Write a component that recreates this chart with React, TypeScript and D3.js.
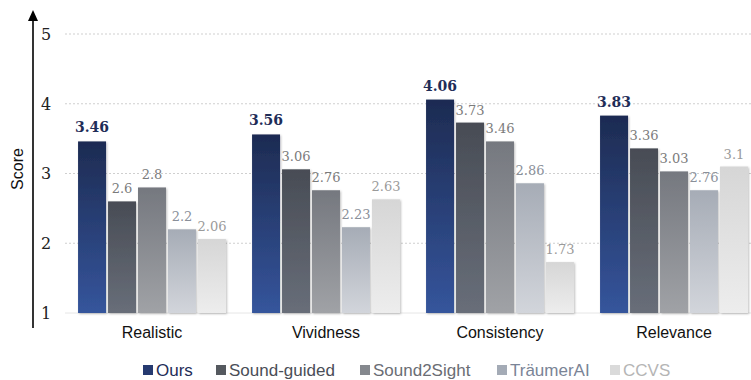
import React from "react";
import * as d3 from "d3";

const categories = ["Realistic", "Vividness", "Consistency", "Relevance"];
const seriesNames = ["Ours", "Sound-guided", "Sound2Sight", "TräumerAI", "CCVS"];
const ours = [3.46, 3.56, 4.06, 3.83];
const soundGuided = [2.6, 3.06, 3.73, 3.36];
const sound2Sight = [2.8, 2.76, 3.46, 3.03];
const traumerAI = [2.2, 2.23, 2.86, 2.76];
const ccvs = [2.06, 2.63, 1.73, 3.1];
const yTicks = [1, 2, 3, 4, 5];

const seriesValues = [ours, soundGuided, sound2Sight, traumerAI, ccvs];
const gradTop = ["#1d2b52", "#484c55", "#75787f", "#a6acb6", "#d6d6d6"];
const gradBottom = ["#35559c", "#686e79", "#a0a2a6", "#d2d5db", "#ededed"];
const legendColors = ["#1f2d58", "#4a4e57", "#6a6d74", "#7a8496", "#b5b5b5"];
const legendSwatch = ["#263a70", "#55595f", "#85888e", "#a4abb6", "#dadada"];
const labelColors = ["#1f2d58", "#7b7b7b", "#7b7b7b", "#8a8f99", "#9a9a9a"];

export default function App() {
  const W = 751, H = 380;
  const y = d3.scaleLinear().domain([1, 5]).range([313, 34]);
  const x0 = d3.scaleBand<string>().domain(categories).range([65, 761]).paddingInner(0.15).paddingOuter(0.075);
  const x1 = d3.scaleBand<string>().domain(seriesNames).range([0, x0.bandwidth()]).paddingInner(0.067).paddingOuter(0);
  const serif = "'DejaVu Serif', serif";
  const sans = "'Liberation Sans', Arial, sans-serif";
  const legendX = [143, 216, 360, 497, 610];
  return (
    <svg width={W} height={H} style={{ position: "absolute", left: 0, top: 0 }}>
      <defs>
        {seriesNames.map((s, i) => (
          <linearGradient key={s} id={`g${i}`} x1="0" y1="0" x2="0" y2="1">
            <stop offset="0%" stopColor={gradTop[i]} />
            <stop offset="100%" stopColor={gradBottom[i]} />
          </linearGradient>
        ))}
        <filter id="sh" x="-20%" y="-10%" width="140%" height="120%">
          <feDropShadow dx="1" dy="1" stdDeviation="1" floodColor="#000" floodOpacity="0.25" />
        </filter>
      </defs>
      <rect width={W} height={H} fill="#fff" />
      {yTicks.map((t) => (
        <g key={t}>
          <line x1={65} x2={751} y1={y(t)} y2={y(t)} stroke={t === 1 ? "#e6e6e6" : "#cfcfcf"} strokeWidth={1} strokeDasharray={t === 1 ? undefined : "2,2"} />
          <text x={46} y={y(t)} dy="0.36em" textAnchor="middle" fontFamily={serif} fontSize={16} fill="#222">{t}</text>
        </g>
      ))}
      {categories.map((c, ci) => (
        <g key={c} transform={`translate(${x0(c)},0)`}>
          {seriesNames.map((s, si) => {
            const v = seriesValues[si][ci];
            const bx = x1(s)!;
            const bw = x1.bandwidth();
            return (
              <g key={s}>
                <rect x={bx} y={y(v)} width={bw} height={y(1) - y(v)} fill={`url(#g${si})`} filter="url(#sh)" />
                <text x={bx + bw / 2} y={y(v) - (si === 0 ? 9 : 8)} textAnchor="middle"
                  fontFamily={serif} fontSize={si === 0 ? 14 : 13} fontWeight={si === 0 ? "bold" : "normal"} fill={labelColors[si]}>{String(v)}</text>
              </g>
            );
          })}
          <text x={x0.bandwidth() / 2} y={338} textAnchor="middle" fontFamily={sans} fontSize={16} fill="#111">{c}</text>
        </g>
      ))}
      <line x1={33} x2={33} y1={18} y2={328} stroke="#000" strokeWidth={1.6} />
      <path d="M33,10 L28,21 L38,21 Z" fill="#000" />
      <text transform="translate(17,169) rotate(-90)" dy="0.35em" textAnchor="middle" fontFamily={sans} fontSize={16} fill="#111">Score</text>
      {seriesNames.map((s, i) => (
        <g key={s}>
          <rect x={legendX[i]} y={365} width={10} height={10} fill={legendSwatch[i]} />
          <text x={legendX[i] + 13} y={375.5} fontFamily={sans} fontSize={17} fill={legendColors[i]}>{s}</text>
        </g>
      ))}
    </svg>
  );
}
